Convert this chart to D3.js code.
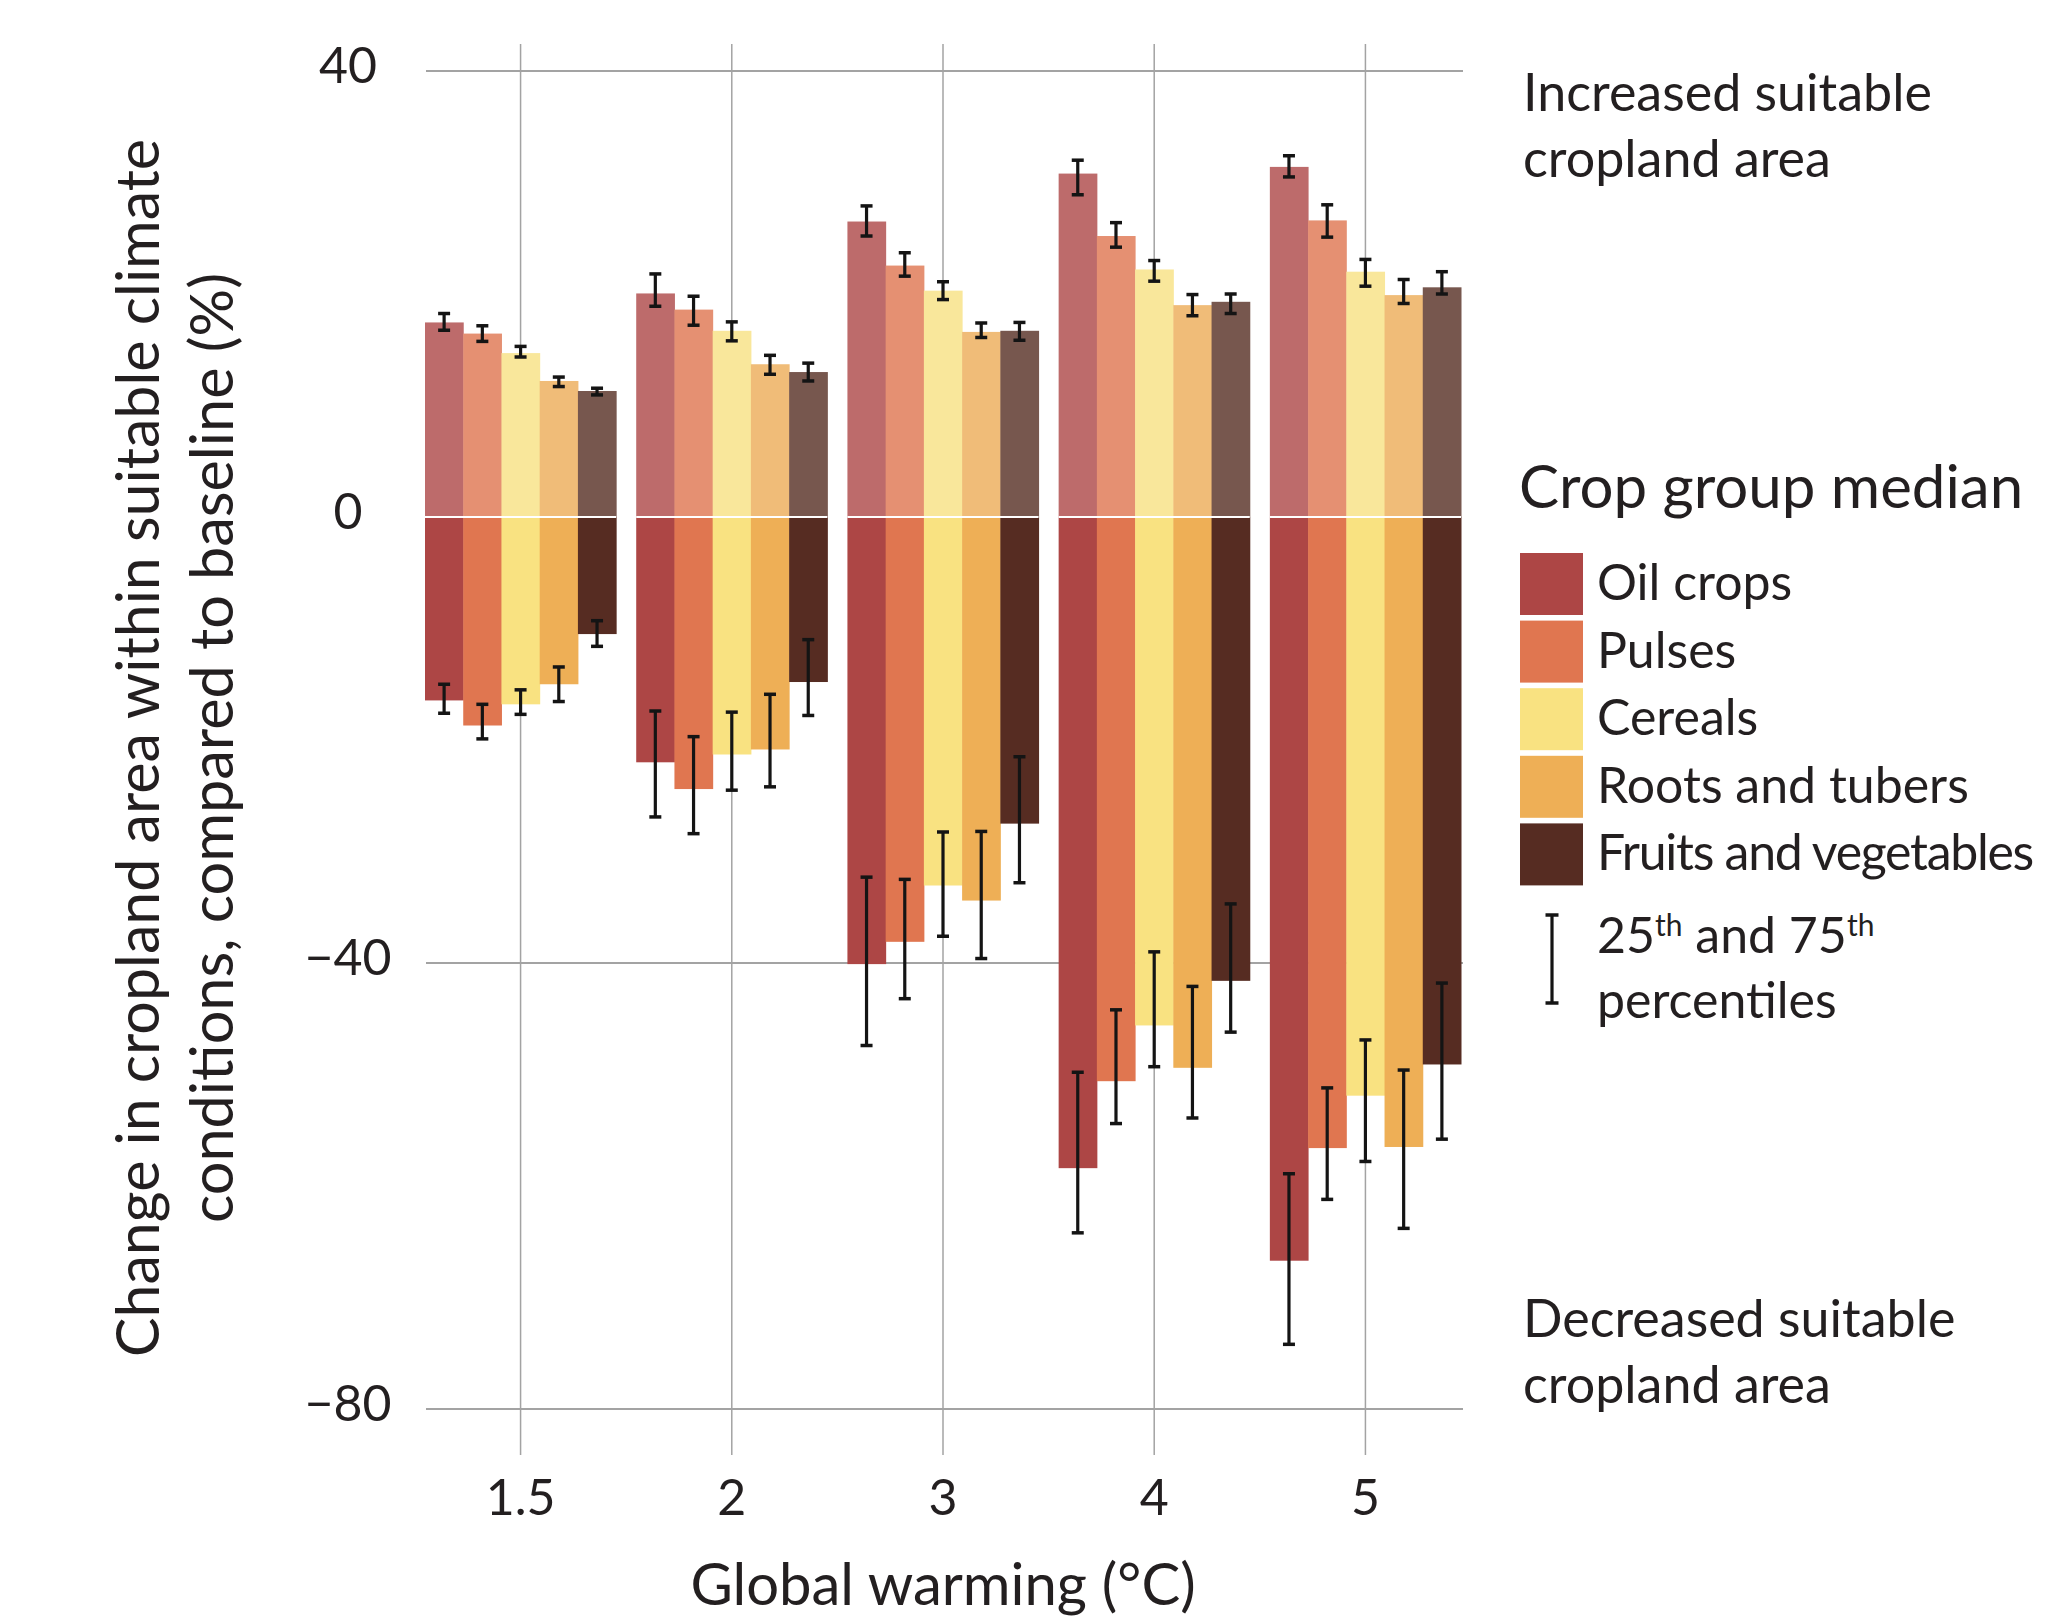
<!DOCTYPE html>
<html>
<head>
<meta charset="utf-8">
<script src="https://cdn.jsdelivr.net/npm/d3@7"></script>
<style>
  html, body { margin: 0; padding: 0; background: #fff; }
  svg text { font-family: Lato, "Open Sans", sans-serif; fill: #231f20; }
</style>
</head>
<body>
<svg class="chart" width="2049" height="1618"></svg>
<script>
'use strict';

// warming levels (x categories) and crop groups (series)
const warmingLevels = ['1.5', '2', '3', '4', '5'];
const cropGroups = ['Oil crops', 'Pulses', 'Cereals', 'Roots and tubers', 'Fruits and vegetables'];

// medians where suitable cropland increases, one row per warming level
const gainMedian = [
  [17.45, 16.45, 14.7, 12.2, 11.3],
  [20.05, 18.6, 16.7, 13.7, 13.0],
  [26.5, 22.55, 20.3, 16.6, 16.7],
  [30.8, 25.2, 22.2, 19.0, 19.3],
  [31.4, 26.6, 22.0, 19.9, 20.6]
];
const gainP25 = [
  [16.75, 15.75, 14.35, 11.7, 10.95],
  [18.9, 17.2, 15.8, 12.8, 12.2],
  [25.2, 21.6, 19.5, 16.1, 15.85],
  [28.9, 24.2, 21.15, 18.05, 18.25],
  [30.5, 25.1, 20.7, 19.15, 20.0]
];
const gainP75 = [
  [18.25, 17.15, 15.3, 12.55, 11.55],
  [21.8, 19.8, 17.5, 14.5, 13.8],
  [27.9, 23.7, 21.1, 17.4, 17.45],
  [32.0, 26.4, 23.0, 19.95, 20.0],
  [32.4, 28.0, 23.1, 21.3, 22.0]
];

// medians where suitable cropland decreases
const lossMedian = [
  [-16.45, -18.7, -16.8, -15.0, -10.5],
  [-22.0, -24.4, -21.3, -20.85, -14.8],
  [-40.1, -38.1, -33.05, -34.4, -27.5],
  [-58.4, -50.6, -45.6, -49.4, -41.6],
  [-66.7, -56.6, -51.9, -56.5, -49.1]
];
const lossP25 = [
  [-15.0, -16.8, -15.5, -13.45, -9.3],
  [-17.4, -19.7, -17.5, -15.9, -11.0],
  [-32.3, -32.5, -28.25, -28.2, -21.5],
  [-49.8, -44.2, -39.0, -42.1, -34.7],
  [-58.9, -51.2, -46.9, -49.6, -41.8]
];
const lossP75 = [
  [-17.6, -19.9, -17.7, -16.55, -11.6],
  [-26.9, -28.4, -24.5, -24.2, -17.8],
  [-47.4, -43.2, -37.6, -39.6, -32.8],
  [-64.2, -54.4, -49.3, -53.9, -46.2],
  [-74.2, -61.2, -57.8, -63.8, -55.8]
];

const yTicks = [40, 0, -40, -80];

const gainColors = ['#bd6b6b', '#e59072', '#f9e79b', '#f0bc78', '#77574e'];
const lossColors = ['#ad4645', '#e07650', '#f9e281', '#eeaf56', '#562c22'];

const svg = d3.select('.chart');

const x = d3.scaleBand().domain(warmingLevels).range([425, 1461]).paddingInner(0.095);
const xInner = d3.scaleBand().domain(cropGroups).range([0, x.bandwidth()]);
const y = d3.scaleLinear().domain([-80, 40]).range([1409, 71]);
const gainColor = d3.scaleOrdinal(cropGroups, gainColors);
const lossColor = d3.scaleOrdinal(cropGroups, lossColors);

const fmt = v => (v < 0 ? '\u2212' + Math.abs(v) : String(v));

// Grid.
const grid = svg.append('g');
grid.selectAll('.hgrid')
  .data(yTicks.filter(t => t !== 0))
  .enter()
  .append('line')
  .attr('x1', 426).attr('x2', 1463)
  .attr('y1', d => y(d)).attr('y2', d => y(d))
  .attr('stroke', '#a3a3a3').attr('stroke-width', 2);
grid.selectAll('.vgrid')
  .data(warmingLevels)
  .enter()
  .append('line')
  .attr('x1', d => x(d) + x.bandwidth() / 2).attr('x2', d => x(d) + x.bandwidth() / 2)
  .attr('y1', 44).attr('y2', 1455)
  .attr('stroke', '#a3a3a3').attr('stroke-width', 1.5);

// Flatten into bar records.
const bars = [];
warmingLevels.forEach((w, i) => {
  cropGroups.forEach((c, j) => {
    bars.push({ w, c, value: gainMedian[i][j], lo: gainP25[i][j], hi: gainP75[i][j], gain: true });
    bars.push({ w, c, value: lossMedian[i][j], lo: lossP25[i][j], hi: lossP75[i][j], gain: false });
  });
});

const barX = d => x(d.w) + xInner(d.c);

svg.append('g')
  .selectAll('rect')
  .data(bars)
  .enter()
  .append('rect')
  .attr('x', barX)
  .attr('width', xInner.bandwidth() + 0.5)
  .attr('y', d => (d.gain ? y(d.value) : y(0)))
  .attr('height', d => Math.abs(y(d.value) - y(0)))
  .attr('fill', d => (d.gain ? gainColor(d.c) : lossColor(d.c)));

// White zero line over the bars.
warmingLevels.forEach(w => {
  svg.append('line')
    .attr('x1', x(w)).attr('x2', x(w) + x.bandwidth())
    .attr('y1', y(0)).attr('y2', y(0))
    .attr('stroke', '#fff').attr('stroke-width', 2);
});

// Error bars (25th to 75th percentile).
const capW = 12;
const errs = svg.append('g').attr('stroke', '#141414').attr('stroke-width', 3.2);
bars.forEach(d => {
  const cx = barX(d) + xInner.bandwidth() / 2;
  errs.append('line').attr('x1', cx).attr('x2', cx).attr('y1', y(d.lo)).attr('y2', y(d.hi));
  [d.lo, d.hi].forEach(v => {
    errs.append('line')
      .attr('x1', cx - capW / 2).attr('x2', cx + capW / 2)
      .attr('y1', y(v)).attr('y2', y(v))
      .attr('stroke-width', 3.5);
  });
});

// Y tick labels.
svg.append('g')
  .selectAll('text')
  .data(yTicks)
  .enter()
  .append('text')
  .attr('x', 348)
  .attr('y', d => y(d) + 12)
  .attr('text-anchor', 'middle')
  .style('font-size', '50px')
  .text(fmt);

// X tick labels.
svg.append('g')
  .selectAll('text')
  .data(warmingLevels)
  .enter()
  .append('text')
  .attr('x', d => x(d) + x.bandwidth() / 2)
  .attr('y', 1515)
  .attr('text-anchor', 'middle')
  .style('font-size', '50px')
  .text(d => d);

// Axis titles.
svg.append('text')
  .attr('x', x('3') + x.bandwidth() / 2)
  .attr('y', 1605)
  .attr('text-anchor', 'middle')
  .style('font-size', '58px')
  .text('Global warming (\u00B0C)');

const yTitle = svg.append('g');
[
  ['Change in cropland area within suitable climate', 159, 1218],
  ['conditions, compared to baseline (%)', 233, 950]
].forEach(([txt, bx, len]) => {
  yTitle.append('text')
    .attr('transform', `translate(${bx},748) rotate(-90)`)
    .attr('text-anchor', 'middle')
    .attr('textLength', len)
    .attr('lengthAdjust', 'spacingAndGlyphs')
    .style('font-size', '60px')
    .text(txt);
});

// Right side annotations.
const note = (lines, x0, y0) => {
  lines.forEach((l, i) => {
    svg.append('text')
      .attr('x', x0).attr('y', y0 + i * 66)
      .style('font-size', '52px')
      .text(l);
  });
};
note(['Increased suitable', 'cropland area'], 1523, 111);
note(['Decreased suitable', 'cropland area'], 1523, 1337);

// Legend.
svg.append('text')
  .attr('x', 1519).attr('y', 508)
  .style('font-size', '60px')
  .text('Crop group median');

const legend = svg.append('g');
cropGroups.forEach((c, i) => {
  const top = 553 + i * 67.6;
  legend.append('rect')
    .attr('x', 1520).attr('y', top)
    .attr('width', 63).attr('height', 62)
    .attr('fill', lossColor(c));
  const t = legend.append('text')
    .attr('x', 1597).attr('y', top + 47)
    .style('font-size', '50px')
    .text(c);
  // the long label is tightly set in the original: tighten the tracking
  const w = t.node().getComputedTextLength();
  if (w > 436) {
    t.style('letter-spacing', `${(436 - w) / c.length}px`);
  }
});

const lg = legend.append('g').attr('stroke', '#141414').attr('stroke-width', 3.2);
lg.append('line').attr('x1', 1552).attr('x2', 1552).attr('y1', 915).attr('y2', 1003);
[915, 1003].forEach(v => lg.append('line').attr('x1', 1545.5).attr('x2', 1558.5).attr('y1', v).attr('y2', v).attr('stroke-width', 3.5));

const pct = legend.append('text').attr('x', 1597).attr('y', 953).style('font-size', '50px');
pct.append('tspan').text('25');
pct.append('tspan').attr('dy', -17).style('font-size', '30px').text('th');
pct.append('tspan').attr('dy', 17).text(' and 75');
pct.append('tspan').attr('dy', -17).style('font-size', '30px').text('th');
legend.append('text').attr('x', 1597).attr('y', 1018).style('font-size', '50px').text('percentiles');
</script>
</body>
</html>
